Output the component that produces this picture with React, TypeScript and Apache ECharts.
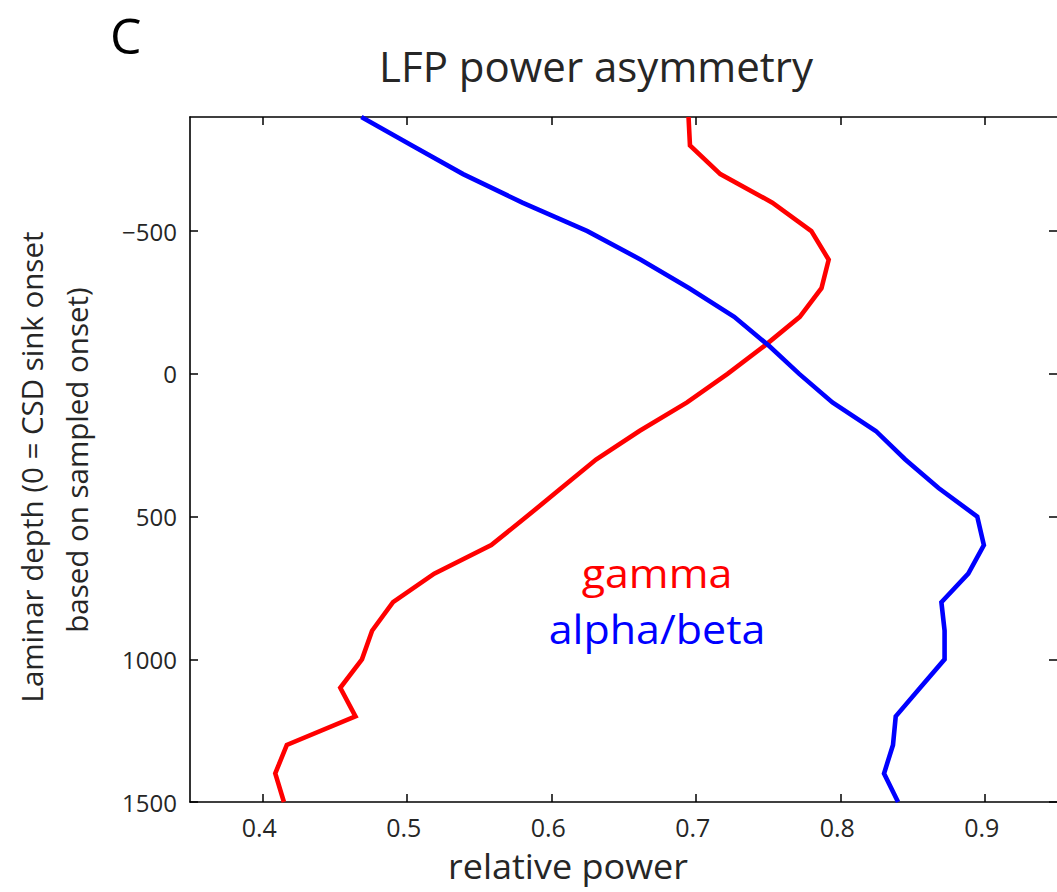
import React, { useEffect, useRef } from "react";
import * as echarts from "echarts";

// Laminar depth (µm, 0 = CSD sink onset), sampled every 100
const depths = [
  -900, -800, -700, -600, -500, -400, -300, -200, -100, 0, 100, 200, 300, 400,
  500, 600, 700, 800, 900, 1000, 1100, 1200, 1300, 1400, 1500,
];
// relative power, gamma band
const gamma = [
  0.695, 0.696, 0.717, 0.753, 0.78, 0.792, 0.787, 0.772, 0.748, 0.722, 0.694,
  0.661, 0.631, 0.607, 0.583, 0.5585, 0.519, 0.4905, 0.476, 0.469, 0.454,
  0.4645, 0.417, 0.409, 0.415,
];
// relative power, alpha/beta band
const alphaBeta = [
  0.4686, 0.5036, 0.539, 0.58, 0.625, 0.662, 0.6955, 0.7266, 0.7503, 0.7716,
  0.7946, 0.8246, 0.845, 0.868, 0.8948, 0.8994, 0.8886, 0.87, 0.8722, 0.8722,
  0.8553, 0.8384, 0.8365, 0.8303, 0.84,
];
const xTicks = [0.4, 0.5, 0.6, 0.7, 0.8, 0.9];
const yTicks = [-500, 0, 500, 1000, 1500];

const FONT = "Open Sans";
const INK = "#262626";

export default function App() {
  const ref = useRef<HTMLDivElement>(null);
  useEffect(() => {
    if (!ref.current) return;
    const chart = echarts.init(ref.current, undefined, { renderer: "svg" });
    const tickStyle = { color: "#000", width: 1.5 };
    const lineStyle = { color: "#000", width: 1.6 };
    const fmtY = (v: number) => (v < 0 ? "\u2212" + Math.abs(v) : String(v));
    const centered = {
      align: "center",
      verticalAlign: "middle",
      textAlign: "center",
      textVerticalAlign: "middle",
    };
    chart.setOption({
      animation: false,
      backgroundColor: "#fff",
      grid: { left: 190, top: 117, width: 869, height: 685, containLabel: false },
      xAxis: [
        {
          type: "value",
          min: 0.35,
          max: 0.95,
          position: "bottom",
          axisLine: { show: true, onZero: false, lineStyle },
          axisTick: { show: true, inside: true, length: 8, lineStyle: tickStyle, customValues: xTicks },
          axisLabel: {
            show: true,
            customValues: xTicks,
            formatter: (v: number) => v.toFixed(1),
            fontFamily: FONT,
            fontSize: 25,
            color: INK,
            margin: 12,
            padding: [0, 6, 0, 0],
          },
          splitLine: { show: false },
        },
        {
          type: "value",
          min: 0.35,
          max: 0.95,
          position: "top",
          axisLine: { show: true, onZero: false, lineStyle },
          axisTick: { show: true, inside: true, length: 8, lineStyle: tickStyle, customValues: xTicks },
          axisLabel: { show: false },
          splitLine: { show: false },
        },
      ],
      yAxis: [
        {
          type: "value",
          inverse: true,
          min: -900,
          max: 1500,
          position: "left",
          axisLine: { show: true, onZero: false, lineStyle },
          axisTick: { show: true, inside: true, length: 8, lineStyle: tickStyle, customValues: yTicks },
          axisLabel: {
            show: true,
            customValues: yTicks,
            formatter: fmtY,
            fontFamily: FONT,
            fontSize: 24,
            color: INK,
            margin: 13,
          },
          splitLine: { show: false },
        },
        {
          type: "value",
          inverse: true,
          min: -900,
          max: 1500,
          position: "right",
          axisLine: { show: false, onZero: false, lineStyle },
          axisTick: { show: true, inside: true, length: 8, lineStyle: tickStyle, customValues: yTicks },
          axisLabel: { show: false },
          splitLine: { show: false },
        },
      ],
      series: [
        {
          name: "gamma",
          type: "line",
          xAxisIndex: 0,
          yAxisIndex: 0,
          data: gamma.map((g, i) => [g, depths[i]]),
          showSymbol: false,
          symbol: "none",
          lineStyle: { color: "#ff0000", width: 4.6, join: "miter" },
          itemStyle: { color: "#ff0000" },
        },
        {
          name: "alpha/beta",
          type: "line",
          xAxisIndex: 0,
          yAxisIndex: 0,
          data: alphaBeta.map((a, i) => [a, depths[i]]),
          showSymbol: false,
          symbol: "none",
          lineStyle: { color: "#0000ff", width: 4.6, join: "miter" },
          itemStyle: { color: "#0000ff" },
        },
      ],
      graphic: [
        {
          type: "text",
          left: 110,
          top: 10,
          style: { text: "C", fontFamily: FONT, fontSize: 50, fill: "#000" },
        },
        {
          type: "text",
          x: 596,
          y: 65,
          style: { text: "LFP power asymmetry", fontFamily: FONT, fontSize: 42, fill: INK, ...centered },
        },
        {
          type: "text",
          x: 568,
          y: 866,
          scaleX: 1.06,
          style: { text: "relative power", fontFamily: FONT, fontSize: 34, fill: INK, ...centered },
        },
        {
          type: "text",
          x: 31,
          y: 467,
          rotation: Math.PI / 2,
          style: { text: "Laminar depth (0 = CSD sink onset", fontFamily: FONT, fontSize: 29.5, fill: INK, ...centered },
        },
        {
          type: "text",
          x: 76,
          y: 460,
          rotation: Math.PI / 2,
          style: { text: "based on sampled onset)", fontFamily: FONT, fontSize: 29.5, fill: INK, ...centered },
        },
        {
          type: "text",
          x: 657,
          y: 573,
          scaleX: 1.075,
          style: { text: "gamma", fontFamily: FONT, fontSize: 40, fill: "#ff0000", ...centered },
        },
        {
          type: "text",
          x: 657,
          y: 629,
          scaleX: 1.075,
          style: { text: "alpha/beta", fontFamily: FONT, fontSize: 40, fill: "#0000ff", ...centered },
        },
      ],
    });
    return () => chart.dispose();
  }, []);
  return (
    <div
      ref={ref}
      style={{ position: "absolute", left: 0, top: 0, width: 1057, height: 892, background: "#fff" }}
    />
  );
}
